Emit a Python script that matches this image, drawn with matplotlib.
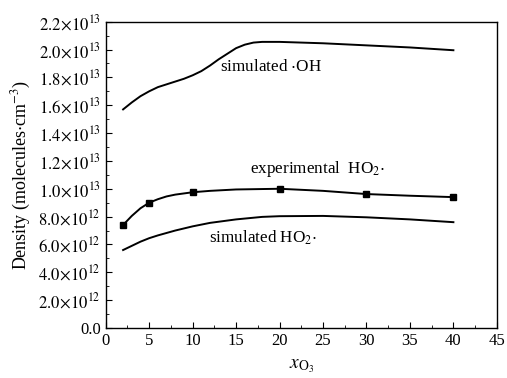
import matplotlib
matplotlib.use("Agg")
import matplotlib.pyplot as plt
from matplotlib.ticker import FixedLocator, MultipleLocator

plt.rcParams['font.family'] = ['Liberation Serif', 'DejaVu Serif']
plt.rcParams['mathtext.fontset'] = 'stix'

# simulated OH
oh_x = [2, 3, 4, 5, 6, 7, 8, 9, 10, 11, 12, 13, 14, 15, 16, 17, 18, 20, 25, 30, 35, 40]
oh_y = [15.7, 16.2, 16.65, 17.0, 17.3, 17.5, 17.7, 17.9, 18.15, 18.45, 18.85, 19.3, 19.7, 20.1, 20.35, 20.5, 20.55, 20.55, 20.45, 20.3, 20.15, 19.95]

# simulated HO2
sho2_x = [2, 3, 4, 5, 6, 8, 10, 12, 15, 18, 20, 25, 30, 35, 40]
sho2_y = [5.6, 5.9, 6.2, 6.45, 6.65, 7.0, 7.3, 7.55, 7.8, 7.98, 8.03, 8.05, 7.95, 7.8, 7.6]

# experimental HO2 fitted curve
efit_x = [2, 3, 4, 5, 6, 7, 8, 10, 12, 15, 20, 25, 30, 35, 40]
efit_y = [7.4, 8.05, 8.6, 9.0, 9.25, 9.45, 9.58, 9.75, 9.85, 9.95, 10.0, 9.85, 9.62, 9.5, 9.4]

# experimental HO2 points
exp_x = [2, 5, 10, 20, 30, 40]
exp_y = [7.4, 9.0, 9.75, 10.0, 9.6, 9.4]

scale = 1e12

fig = plt.figure(figsize=(5.07, 3.78), dpi=100)
ax = fig.add_axes([0.2085, 0.1323, 0.7715, 0.8103])

ax.plot(oh_x, [v * scale for v in oh_y], color='black', lw=1.4)
ax.plot(sho2_x, [v * scale for v in sho2_y], color='black', lw=1.4)
ax.plot(efit_x, [v * scale for v in efit_y], color='black', lw=1.4)
ax.plot(exp_x, [v * scale for v in exp_y], 's', color='black', ms=5, ls='none')

ax.set_xlim(0, 45)
ax.set_ylim(0, 2.2e13)
ax.xaxis.set_major_locator(MultipleLocator(5))
ax.xaxis.set_minor_locator(MultipleLocator(2.5))
yt = [i * 2e12 for i in range(12)]
ax.yaxis.set_major_locator(FixedLocator(yt))
ax.yaxis.set_minor_locator(MultipleLocator(1e12))

def ylab(v):
    if v == 0:
        return '0.0'
    if v >= 1e13 - 1:
        return r'$%.1f\!\times\!10^{13}$' % (v / 1e13)
    return r'$%.1f\!\times\!10^{12}$' % (v / 1e12)

ax.set_yticklabels([ylab(v) for v in yt])
ax.tick_params(which='both', direction='in', labelsize=12, top=False, right=False)
ax.tick_params(which='major', length=4)
ax.tick_params(which='minor', length=2.5)
for s in ax.spines.values():
    s.set_linewidth(1.0)

ax.set_xlabel(r'$x_{\mathrm{O_3}}$', fontsize=14, labelpad=6)
ax.set_ylabel(r'Density (molecules$\cdot$cm$^{-3}$)', fontsize=13, labelpad=4)

ax.text(13.1, 1.877e13, r'simulated $\cdot$OH', fontsize=12.3, ha='left', va='center')
ax.text(16.6, 1.14e13, r'experimental  HO$_2$$\cdot$', fontsize=12.3, ha='left', va='center')
ax.text(11.9, 0.65e13, r'simulated HO$_2$$\cdot$', fontsize=12.3, ha='left', va='center')

fig.savefig('out.png', dpi=100)
